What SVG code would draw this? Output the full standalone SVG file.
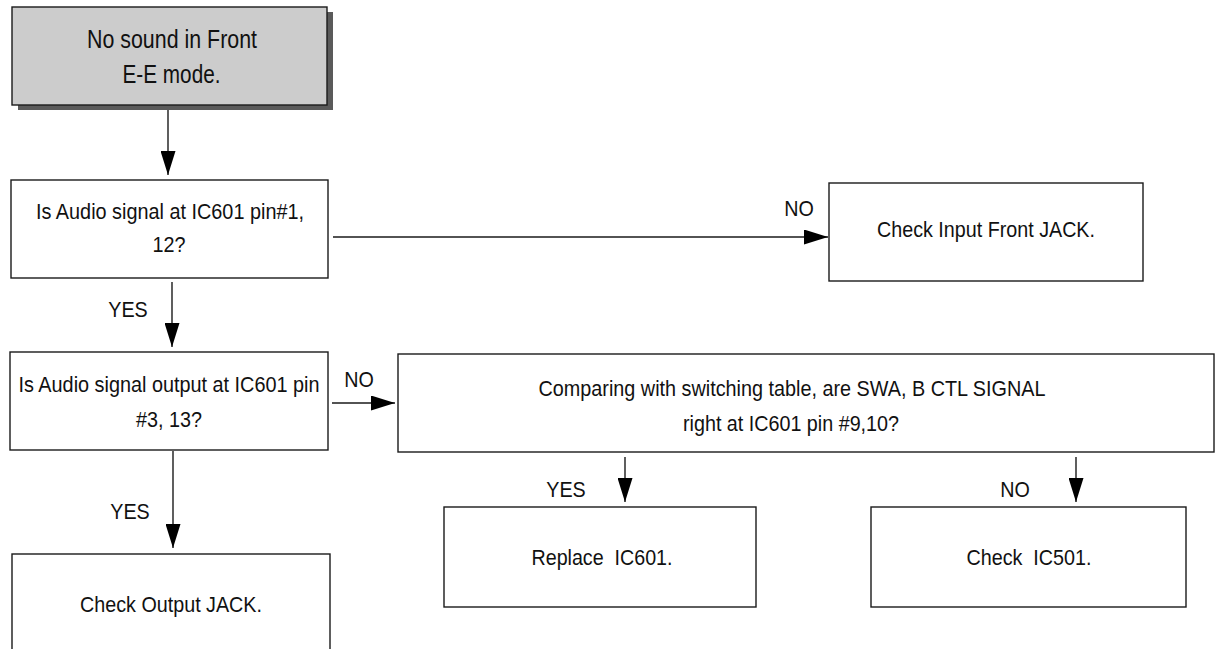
<svg xmlns="http://www.w3.org/2000/svg" width="1215" height="649" viewBox="0 0 1215 649">
<defs>
<style>
.box{fill:#ffffff;stroke:#1a1a1a;stroke-width:1.4}
.start{fill:#cccccc;stroke:#1a1a1a;stroke-width:1.4}
.shadow{fill:#5a5a5a}
.t{font-family:"Liberation Sans",Arial,sans-serif;font-size:22.5px;fill:#111;text-anchor:middle}
.tb{font-family:"Liberation Sans",Arial,sans-serif;font-size:25px;fill:#111;text-anchor:middle}
.ln{fill:none;stroke:#1a1a1a;stroke-width:1.4}
</style>
<marker id="ah" markerUnits="userSpaceOnUse" markerWidth="24" markerHeight="15" refX="24" refY="7.5" orient="auto">
<path d="M0,0 L24,7.5 L0,15 Z" fill="#000"/>
</marker>
</defs>
<g id="connectors">
<line class="ln" x1="168" y1="106" x2="168" y2="175" marker-end="url(#ah)"/>
<line class="ln" x1="333" y1="237" x2="828" y2="237" marker-end="url(#ah)"/>
<text class="t" x="799" y="216" textLength="29.6" lengthAdjust="spacingAndGlyphs">NO</text>
<line class="ln" x1="172" y1="282" x2="172" y2="347" marker-end="url(#ah)"/>
<text class="t" x="128" y="317" textLength="39.5" lengthAdjust="spacingAndGlyphs">YES</text>
<line class="ln" x1="332" y1="403" x2="395" y2="403" marker-end="url(#ah)"/>
<text class="t" x="359" y="387" textLength="29.6" lengthAdjust="spacingAndGlyphs">NO</text>
<line class="ln" x1="173" y1="451" x2="173" y2="548" marker-end="url(#ah)"/>
<text class="t" x="130" y="519" textLength="39.5" lengthAdjust="spacingAndGlyphs">YES</text>
<line class="ln" x1="625" y1="457" x2="625" y2="502" marker-end="url(#ah)"/>
<text class="t" x="566" y="497" textLength="39.5" lengthAdjust="spacingAndGlyphs">YES</text>
<line class="ln" x1="1076" y1="457" x2="1076" y2="502" marker-end="url(#ah)"/>
<text class="t" x="1015" y="497" textLength="29.6" lengthAdjust="spacingAndGlyphs">NO</text>
</g>
<g id="start">
<rect class="shadow" x="18" y="12" width="315" height="98"/>
<rect class="start" x="12" y="7" width="315" height="98"/>
<text class="tb" x="172" y="48" textLength="170" lengthAdjust="spacingAndGlyphs">No sound in Front</text>
<text class="tb" x="171.5" y="83" textLength="98" lengthAdjust="spacingAndGlyphs">E-E mode.</text>
</g>
<g id="q1">
<rect class="box" x="11" y="180" width="317" height="98"/>
<text class="t" x="170" y="219" textLength="268" lengthAdjust="spacingAndGlyphs">Is Audio signal at IC601 pin#1,</text>
<text class="t" x="169" y="252" textLength="33" lengthAdjust="spacingAndGlyphs">12?</text>
</g>
<g id="inputjack">
<rect class="box" x="829" y="183" width="314" height="98"/>
<text class="t" x="986" y="237" textLength="218" lengthAdjust="spacingAndGlyphs">Check Input Front JACK.</text>
</g>
<g id="q2">
<rect class="box" x="10" y="352" width="318" height="98"/>
<text class="t" x="169" y="392" textLength="301" lengthAdjust="spacingAndGlyphs">Is Audio signal output at IC601 pin</text>
<text class="t" x="169" y="427" textLength="66" lengthAdjust="spacingAndGlyphs">#3, 13?</text>
</g>
<g id="q3">
<rect class="box" x="398" y="354" width="816" height="98"/>
<text class="t" x="792" y="396" textLength="507" lengthAdjust="spacingAndGlyphs">Comparing with switching table, are SWA, B CTL SIGNAL</text>
<text class="t" x="791" y="431" textLength="216" lengthAdjust="spacingAndGlyphs">right at IC601 pin #9,10?</text>
</g>
<g id="replace">
<rect class="box" x="444" y="507" width="312" height="100"/>
<text class="t" x="602" y="565" textLength="141" lengthAdjust="spacingAndGlyphs" style="white-space:pre">Replace  IC601.</text>
</g>
<g id="ic501">
<rect class="box" x="871" y="507" width="315" height="100"/>
<text class="t" x="1029" y="565" textLength="125" lengthAdjust="spacingAndGlyphs" style="white-space:pre">Check  IC501.</text>
</g>
<g id="outputjack">
<rect class="box" x="12" y="554" width="318" height="110"/>
<text class="t" x="171" y="612" textLength="182" lengthAdjust="spacingAndGlyphs">Check Output JACK.</text>
</g>
</svg>
